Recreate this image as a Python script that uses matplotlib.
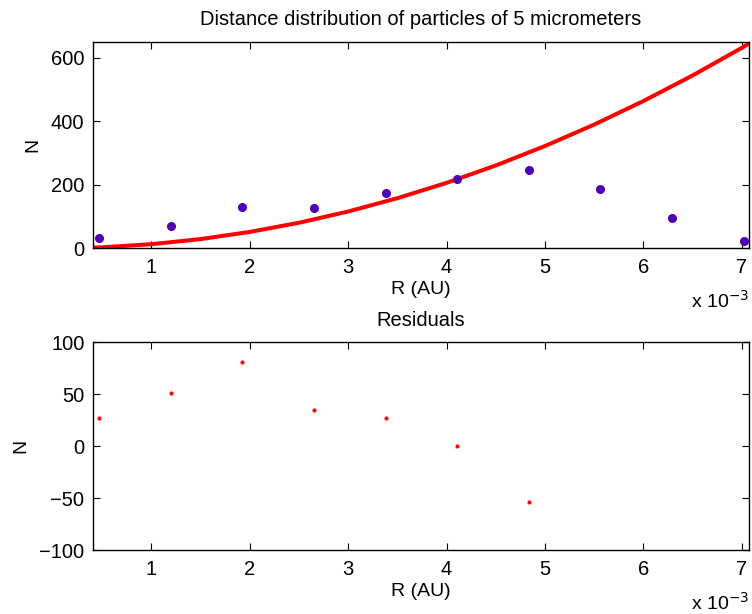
import numpy as np
import matplotlib
matplotlib.use('Agg')
import matplotlib.pyplot as plt

# ── Data (R in units of 1e-3 AU) ─────────────────────────────────────────────
R_centers = [0.467, 1.196, 1.923, 2.651, 3.379, 4.107, 4.835, 5.563, 6.291, 7.019]
N_counts = [32, 71, 130, 127, 175, 217, 247, 186, 96, 22]

# fitted curve
fit_R = [0.40, 0.5, 1.0, 1.5, 2.0, 2.5, 3.0, 3.5, 4.0, 4.5, 5.0, 5.5, 6.0, 6.5, 7.0, 7.07]
fit_N = [2.1, 3.2, 12.9, 29.0, 51.5, 80.4, 115.8, 157.7, 205.9, 260.6, 321.8, 389.3, 463.3, 543.8, 630.6, 643.5]

# residuals that fall inside the plotted range
res_R = [0.467, 1.196, 1.923, 2.651, 3.379, 4.107, 4.835]
res_N = [27, 51, 81, 35, 27, 0, -54]

xticks = [1, 2, 3, 4, 5, 6, 7]

# ── Style ────────────────────────────────────────────────────────────────────
plt.rcParams.update({
    'font.family': ['Liberation Sans', 'DejaVu Sans'],
    'font.size': 14,
    'xtick.labelsize': 14.5,
    'ytick.labelsize': 14.5,
    'axes.titlesize': 14.5,
    'axes.labelsize': 14,
    'axes.linewidth': 1.0,
    'xtick.direction': 'in',
    'ytick.direction': 'in',
    'xtick.top': True,
    'ytick.right': True,
    'xtick.major.size': 5,
    'ytick.major.size': 5,
})

PURPLE = '#5000B4'
RED = '#FF0000'

fig = plt.figure(figsize=(7.52, 6.14), dpi=100)
ax1 = fig.add_axes([0.1234, 0.5956, 0.8726, 0.3365])
ax2 = fig.add_axes([0.1234, 0.1042, 0.8726, 0.3383])

# ── Top: distribution + fit ──────────────────────────────────────────────────
ax1.plot(R_centers, N_counts, 'o', color=PURPLE, markersize=5.5, zorder=3)
ax1.plot(fit_R, fit_N, '-', color=RED, linewidth=2.9, zorder=2)
ax1.set_xlim(0.404, 7.073)
ax1.set_ylim(0, 650)
ax1.set_yticks([0, 200, 400, 600])
ax1.set_xticks(xticks)
ax1.set_title('Distance distribution of particles of 5 micrometers', pad=12)
ax1.set_xlabel('R (AU)', labelpad=3)
ax1.set_ylabel('N', labelpad=7)
ax1.text(1.0, -0.255, r'x 10$^{-3}$', transform=ax1.transAxes,
         ha='right', va='center', fontsize=14)

# ── Bottom: residuals ────────────────────────────────────────────────────────
ax2.plot(res_R, res_N, '.', color=RED, markersize=4)
ax2.set_xlim(0.404, 7.073)
ax2.set_ylim(-100, 100)
ax2.set_yticks([-100, -50, 0, 50, 100])
ax2.set_xticks(xticks)
ax2.set_title('Residuals', pad=12)
ax2.set_xlabel('R (AU)', labelpad=3)
ax2.set_ylabel('N', labelpad=7)
ax2.text(1.0, -0.255, r'x 10$^{-3}$', transform=ax2.transAxes,
         ha='right', va='center', fontsize=14)

for ax in (ax1, ax2):
    ax.tick_params(axis='x', pad=7)
    ax.tick_params(axis='y', pad=6)

fig.savefig('out.png', dpi=100)
